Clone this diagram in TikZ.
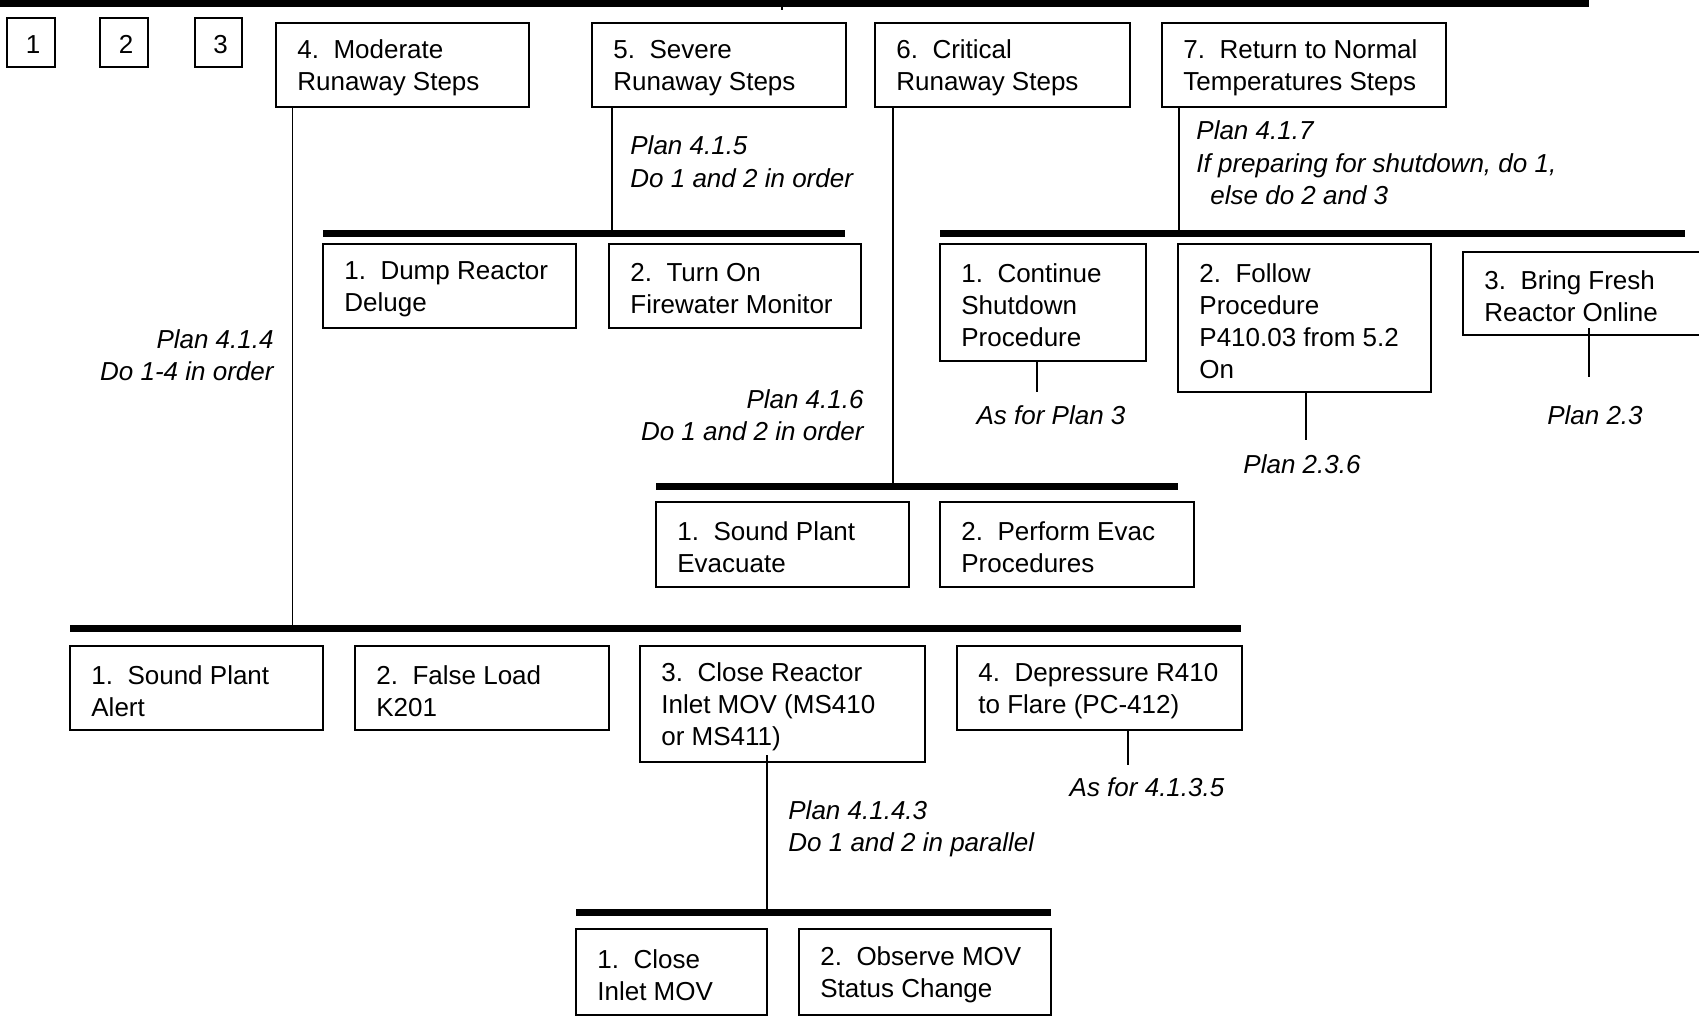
\documentclass[tikz,border=0pt]{standalone}
\usepackage{fontspec}
\setmainfont{Liberation Sans}
\usetikzlibrary{fit}

% a task box given by two opposite corners, with its text set flush left inside
\newcommand\taskbox[6]{%
  \node[tbox, fit={(#2,#3) (#4,#5)}] (#1) {};
  \node[ttext, anchor=west] (#1-t) at ([xshift=11pt,yshift=-1.5pt]#1.west) {#6};
}

\begin{document}
\begin{tikzpicture}[x=0.5pt, y=-0.5pt,
  tbox/.style={draw, line width=1pt, inner sep=0pt},
  ttext/.style={inner sep=0pt, align=left, font=\fontsize{13}{16}\selectfont},
  numbox/.style={draw, line width=1pt, inner sep=0pt, font=\fontsize{13}{16}\selectfont},
  plan/.style={inner sep=0pt, font=\fontsize{13}{16}\selectfont\itshape},
  conn/.style={line width=0.75pt},
  bar/.style={line width=3.5pt},
]
\clip (0,0) rectangle (1699,1024);
\fill[white] (0,0) rectangle (1699,1024);

% top level bar with the stub of its parent link
\fill[black] (0,0) rectangle (1589,6.5);
\coordinate (top) at (782,6);
\coordinate (tk) at (782,10);
\draw[conn] (top) -- (tk);

% first row
\node[numbox, fit={(7,18) (55,67)}] (n1) {};
\node[numbox, fit={(100,18) (148,67)}] (n2) {};
\node[numbox, fit={(195,18) (242,67)}] (n3) {};
\node[inner sep=0pt, font=\fontsize{13}{16}\selectfont] (n1-t) at ([xshift=1pt,yshift=-1pt]n1) {1};
\node[inner sep=0pt, font=\fontsize{13}{16}\selectfont] (n2-t) at ([xshift=1pt,yshift=-1pt]n2) {2};
\node[inner sep=0pt, font=\fontsize{13}{16}\selectfont] (n3-t) at ([xshift=1pt,yshift=-1pt]n3) {3};

\taskbox{m4}{276}{23}{529}{107}{4.~~Moderate\\Runaway Steps}
\taskbox{m5}{592}{23}{846}{107}{5.~~Severe\\Runaway Steps}
\taskbox{m6}{875}{23}{1130}{107}{6.~~Critical\\Runaway Steps}
\taskbox{m7}{1162}{23}{1446}{107}{7.~~Return to Normal\\Temperatures Steps}

% plan 4.1.5
\coordinate (b5w) at (323,233);
\coordinate (b5e) at (845,233);
\coordinate (j5) at (612,233);
\draw[bar] (b5w) -- (b5e);
\draw[conn] (j5 |- m5.south) -- (j5);
\node[plan, anchor=base west] (p415a) at (630,154) {Plan 4.1.5};
\node[plan, anchor=base west] (p415b) at (630,187) {Do 1 and 2 in order};
\taskbox{m51}{323}{244}{576}{328}{1.~~Dump Reactor\\Deluge}
\taskbox{m52}{609}{244}{861}{328}{2.~~Turn On\\Firewater Monitor}

% plan 4.1.7
\coordinate (b7w) at (940,233);
\coordinate (b7e) at (1685,233);
\coordinate (j7) at (1179,233);
\draw[bar] (b7w) -- (b7e);
\draw[conn] (j7 |- m7.south) -- (j7);
\node[plan, anchor=base west] (p417a) at (1196,139) {Plan 4.1.7};
\node[plan, anchor=base west] (p417b) at (1196,172) {If preparing for shutdown, do 1,};
\node[plan, anchor=base west] (p417c) at (1210,204) {else do 2 and 3};
\taskbox{m71}{940}{244}{1146}{361}{1.~~Continue\\Shutdown\\Procedure}
\taskbox{m72}{1178}{244}{1431}{392}{2.~~Follow\\Procedure\\P410.03 from 5.2\\On}
\taskbox{m73}{1463}{252}{1710}{335}{3.~~Bring Fresh\\Reactor Online}

\coordinate (e71) at (1037,392);
\coordinate (e72) at (1306,440);
\coordinate (e73) at (1589,377);
\draw[conn] (e71 |- m71.south) -- (e71);
\draw[conn] (e72 |- m72.south) -- (e72);
\draw[conn] (e73 |- m73.south) ++(0,-8) -- (e73);
\node[plan, anchor=base] (r71) at (1051,424) {As for Plan 3};
\node[plan, anchor=base] (r72) at (1302,473) {Plan 2.3.6};
\node[plan, anchor=base] (r73) at (1595,424) {Plan 2.3};

% plan 4.1.6
\coordinate (b6w) at (656,486);
\coordinate (b6e) at (1178,486);
\coordinate (j6) at (893,486);
\draw[bar] (b6w) -- (b6e);
\draw[conn] (j6 |- m6.south) -- (j6);
\node[plan, anchor=base east] (p416a) at (864,408) {Plan 4.1.6};
\node[plan, anchor=base east] (p416b) at (864,440) {Do 1 and 2 in order};
\taskbox{m61}{656}{502}{909}{587}{1.~~Sound Plant\\Evacuate}
\taskbox{m62}{940}{502}{1194}{587}{2.~~Perform Evac\\Procedures}

% plan 4.1.4
\coordinate (b4w) at (70,628);
\coordinate (b4e) at (1241,628);
\coordinate (j4) at (292.5,628);
\draw[bar] (b4w) -- (b4e);
\draw[conn] (j4 |- m4.south) -- (j4);
\node[plan, anchor=base east] (p414a) at (274,348) {Plan 4.1.4};
\node[plan, anchor=base east] (p414b) at (274,380) {Do 1-4 in order};
\taskbox{m41}{70}{646}{323}{730}{1.~~Sound Plant\\Alert}
\taskbox{m42}{355}{646}{609}{730}{2.~~False Load\\K201}
\taskbox{m43}{640}{646}{925}{762}{3.~~Close Reactor\\Inlet MOV (MS410\\or MS411)}
\taskbox{m44}{957}{646}{1242}{730}{4.~~Depressure R410\\to Flare (PC-412)}

\coordinate (e44) at (1128,765);
\draw[conn] (e44 |- m44.south) -- (e44);
\node[plan, anchor=base] (r44) at (1147,796) {As for 4.1.3.5};

% plan 4.1.4.3
\coordinate (b43w) at (576,912);
\coordinate (b43e) at (1051,912);
\coordinate (j43) at (767,912);
\draw[bar] (b43w) -- (b43e);
\draw[conn] (j43 |- m43.south) ++(0,-8) -- (j43);
\node[plan, anchor=base west] (p4143a) at (788,819) {Plan 4.1.4.3};
\node[plan, anchor=base west] (p4143b) at (788,851) {Do 1 and 2 in parallel};
\taskbox{m431}{576}{929}{767}{1015}{1.~~Close\\Inlet MOV}
\taskbox{m432}{799}{929}{1051}{1015}{2.~~Observe MOV\\Status Change}
\end{tikzpicture}
\end{document}
